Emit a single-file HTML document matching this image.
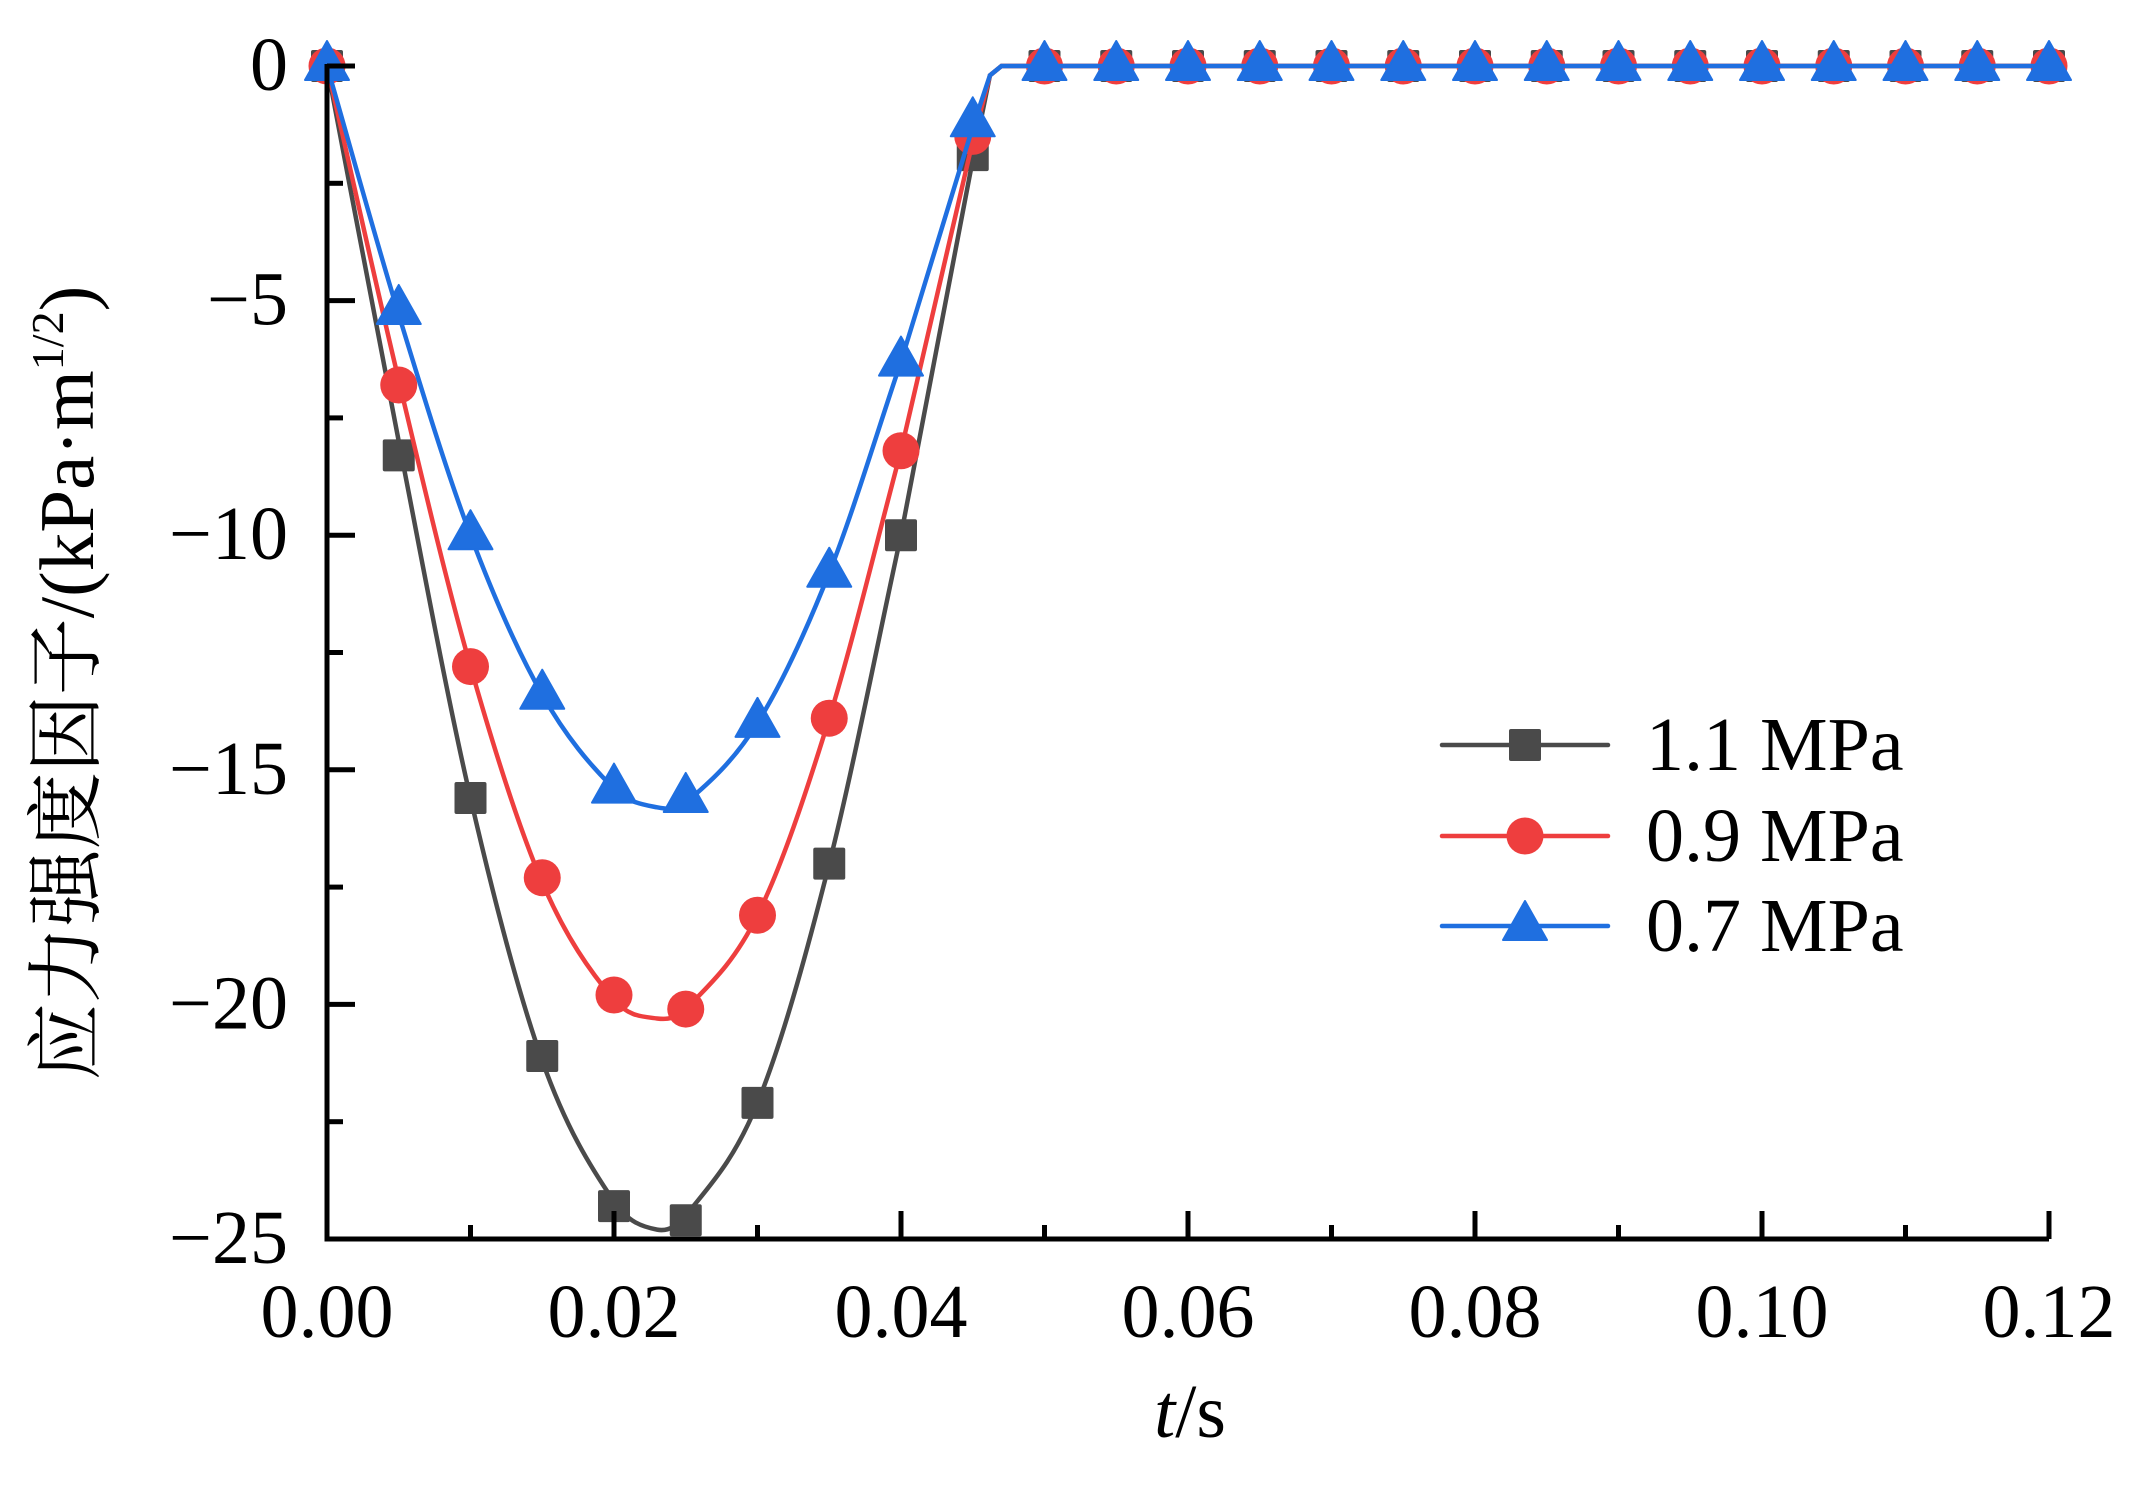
<!DOCTYPE html>
<html><head><meta charset="utf-8"><style>
html,body{margin:0;padding:0;background:#fff;}
svg{display:block;font-family:"Liberation Serif","Noto Serif CJK SC",serif;}
</style></head><body>
<svg id="chart" width="2156" height="1492" viewBox="0 0 2156 1492">
<g id="plot"></g>
<g id="axes"></g>
<text x="1190" y="1437" font-size="76" text-anchor="middle"><tspan font-style="italic">t</tspan>/s</text>
<text transform="translate(93,683) rotate(-90)" font-size="77" text-anchor="middle">应力强度因子/(kPa·m<tspan font-size="46" dy="-30">1/2</tspan><tspan dy="30">)</tspan></text>
<g id="legend"></g>
</svg>
<script>
const tMarkers = [0,0.005,0.01,0.015,0.02,0.025,0.03,0.035,0.04,0.045,0.05,0.055,0.06,0.065,0.07,0.075,0.08,0.085,0.09,0.095,0.1,0.105,0.11,0.115,0.12];
const s11 = [0,-8.3,-15.6,-21.1,-24.3,-24.6,-22.1,-17.0,-10.0,-1.9,0,0,0,0,0,0,0,0,0,0,0,0,0,0,0];
const s09 = [0,-6.8,-12.8,-17.3,-19.8,-20.1,-18.1,-13.9,-8.2,-1.5,0,0,0,0,0,0,0,0,0,0,0,0,0,0,0];
const s07 = [0,-5.2,-10.0,-13.4,-15.4,-15.6,-14.0,-10.8,-6.3,-1.2,0,0,0,0,0,0,0,0,0,0,0,0,0,0,0];
const tLine = [0,0.005,0.01,0.015,0.02,0.023,0.025,0.03,0.035,0.04,0.045,0.0462,0.047,0.05,0.12];
const l11 = [0,-8.0,-15.6,-21.2,-24.2,-24.8,-24.5,-22.1,-17.0,-10.0,-2.0,-0.2,0,0,0];
const l09 = [0,-6.7,-12.8,-17.4,-19.9,-20.3,-20.1,-18.1,-13.9,-8.2,-1.6,-0.2,0,0,0];
const l07 = [0,-5.3,-10.0,-13.4,-15.4,-15.8,-15.7,-14.0,-10.8,-6.3,-1.3,-0.2,0,0,0];
const xTicks = [0,0.02,0.04,0.06,0.08,0.10,0.12];
const xTickLabels = ["0.00","0.02","0.04","0.06","0.08","0.10","0.12"];
const yTicks = [0,-5,-10,-15,-20,-25];
const yTickLabels = ["0","\u22125","\u221210","\u221215","\u221220","\u221225"];
const seriesNames = ["1.1 MPa","0.9 MPa","0.7 MPa"];

const NS="http://www.w3.org/2000/svg";
const X0=327,X1=2049,Y0=66,Y1=1239;
const xs=t=>X0+(t-0)/(0.12)*(X1-X0);
const ys=v=>Y0+(0-v)/25*(Y1-Y0);
function mk(tag,attrs,parent){const e=document.createElementNS(NS,tag);for(const k in attrs)e.setAttribute(k,attrs[k]);parent.appendChild(e);return e;}
const plot=document.getElementById('plot'),axes=document.getElementById('axes'),legend=document.getElementById('legend');

function curvePath(ts,vs){
  const p=ts.map((t,i)=>[xs(t),ys(vs[i])]);
  const n=p.length;
  const m=p.map((q,i)=>{
    if(i===0) return (p[1][1]-p[0][1])/(p[1][0]-p[0][0]);
    if(i===n-1) return 0;
    return (p[i+1][1]-p[i-1][1])/(p[i+1][0]-p[i-1][0]);
  });
  let d=`M${p[0][0]},${p[0][1]}`;
  for(let i=0;i<n-1;i++){
    const b=p[i],c=p[i+1];
    if(i>=9){d+=` L${c[0]},${c[1]}`;continue;}
    const dx=(c[0]-b[0])/3;
    const mb=i===0?m[0]:m[i], mc=(i+1===9)?(c[1]-b[1])/(c[0]-b[0]):m[i+1];
    d+=` C${b[0]+dx},${b[1]+mb*dx} ${c[0]-dx},${c[1]-mc*dx} ${c[0]},${c[1]}`;
  }
  return d;
}
function marker(kind,x,y,color,parent){
  let m;
  if(kind==='sq') m=mk('rect',{x:x-16,y:y-16,width:32,height:32,rx:2,fill:color},parent);
  else if(kind==='ci') m=mk('ellipse',{cx:x,cy:y,rx:18.5,ry:18.5,fill:color},parent);
  else m=mk('polygon',{points:`${x},${y-25} ${x+22},${y+14} ${x-22},${y+14}`,fill:color,stroke:color,'stroke-width':2,'stroke-linejoin':'round'},parent);
  return m;
}
const series=[
  {line:l11,pts:s11,color:'#4a4a4a',kind:'sq',name:'series-1-1mpa'},
  {line:l09,pts:s09,color:'#ee3e3e',kind:'ci',name:'series-0-9mpa'},
  {line:l07,pts:s07,color:'#1f6fe0',kind:'tr',name:'series-0-7mpa'}
];
series.forEach((s,si)=>{
  const g=mk('g',{},plot);
  
  
  const path=mk('path',{d:curvePath(tLine,s.line),fill:'none',stroke:s.color,'stroke-width':4.5}, g);
  
  
  tMarkers.forEach((t,i)=>{
    const m=marker(s.kind,xs(t),ys(s.pts[i]),s.color,g);
    
    
  });
});
const ax=mk('path',{d:`M${X0},${Y0-2} V${Y1} H${X1}`,fill:'none',stroke:'#000','stroke-width':5},axes);


for(let k=0;k<=12;k++){
  const t=k*0.01;
  const major=k%2===0;
  const tk=mk('line',{x1:xs(t),x2:xs(t),y1:Y1,y2:Y1-(major?28:14),stroke:'#000','stroke-width':5},axes);
  
  
}
for(let k=0;k<=10;k++){
  const v=-2.5*k;
  const major=k%2===0;
  const tk=mk('line',{x1:X0,x2:X0+(major?28:16),y1:ys(v),y2:ys(v),stroke:'#000','stroke-width':5},axes);
  
  
}
xTicks.forEach((t,i)=>{
  const tx=mk('text',{x:xs(t),y:1337,'font-size':76,'text-anchor':'middle'},axes);
  tx.textContent=xTickLabels[i];
  
  
});
yTicks.forEach((v,i)=>{
  const tx=mk('text',{x:288,y:ys(v)+24,'font-size':76,'text-anchor':'end'},axes);
  tx.textContent=yTickLabels[i];
  
  
});
const rows=[745,836,926];
series.forEach((s,i)=>{
  const g=mk('g',{},legend);
  
  
  mk('line',{x1:1442,x2:1608,y1:rows[i],y2:rows[i],stroke:s.color,'stroke-width':4.5,'stroke-linecap':'round'},g);
  marker(s.kind,1525,rows[i],s.color,g);
  const tx=mk('text',{x:1646,y:rows[i]+25,'font-size':76},g);
  tx.textContent=seriesNames[i];
});
</script>
</body></html>
